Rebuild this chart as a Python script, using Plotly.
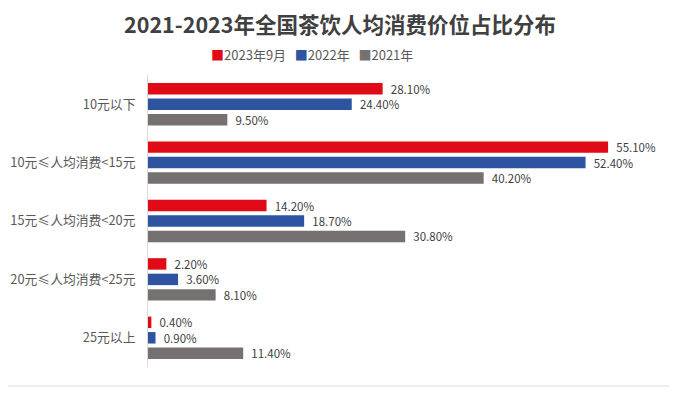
import plotly.graph_objects as go

categories = ["10元以下", "10元≤人均消费<15元", "15元≤人均消费<20元", "20元≤人均消费<25元", "25元以上"]
series_names = ["2023年9月", "2022年", "2021年"]
v2023 = [28.1, 55.1, 14.2, 2.2, 0.4]
v2022 = [24.4, 52.4, 18.7, 3.6, 0.9]
v2021 = [9.5, 40.2, 30.8, 8.1, 11.4]
colors = ["#E00B16", "#2E54A1", "#767171"]

# page offset (browser body margin)
OFF = 8
W, H = 677, 395
L, T, R, B = 148 - OFF, 75 - OFF, 649 - OFF, 367 - OFF
PW, PH = R - L, B - T

fig = go.Figure()
for name, vals, c in zip(series_names, [v2023, v2022, v2021], colors):
    fig.add_trace(go.Bar(
        y=categories, x=vals, name=name, orientation="h",
        marker=dict(color=c, line=dict(width=0)),
        text=["  %.2f%%" % v for v in vals],
        textposition="outside", constraintext="none", cliponaxis=False,
        textfont=dict(size=11.5, color="#404040", family="Noto Sans CJK SC"),
        hoverinfo="x+y", showlegend=False,
    ))

legend_text = "   ".join(
    "<span style='color:%s'>■</span>%s" % (c, n) for c, n in zip(colors, series_names)
)

fig.update_layout(
    width=W, height=H,
    margin=dict(l=L, r=W - R, t=T, b=H - B, autoexpand=False),
    paper_bgcolor="white", plot_bgcolor="white",
    barmode="group", bargap=0.205, bargroupgap=0.26,
    font=dict(family="Noto Sans CJK SC", color="#595959", size=12),
    title=dict(text="<b>2021-2023年全国茶饮人均消费价位占比分布</b>",
               x=(340 - OFF) / W, xanchor="center", xref="container",
               y=1 - 17 / H, yanchor="middle", pad=dict(t=0, b=0),
               font=dict(size=21.5, color="#404040", family="Noto Sans CJK SC")),
    xaxis=dict(range=[0, 60], visible=False, fixedrange=True),
    yaxis=dict(autorange="reversed", showline=True, linecolor="#D9D9D9", linewidth=1,
               ticks="", ticklabelstandoff=9, showgrid=False, automargin=False,
               tickfont=dict(size=12.8, color="#595959")),
    showlegend=False,
    annotations=[dict(text=legend_text, xref="paper", yref="paper",
                      x=(312 - 148) / PW, y=1 + (75 - 55) / PH, xanchor="center", yanchor="middle",
                      showarrow=False, font=dict(size=13, color="#595959"))],
    shapes=[dict(type="line", xref="paper", yref="paper", x0=-L / PW, x1=(W - L) / PW,
                 y0=-(386 - 367) / PH, y1=-(386 - 367) / PH, line=dict(color="#D9D9D9", width=1))],
)
fig.write_html("out.html")
